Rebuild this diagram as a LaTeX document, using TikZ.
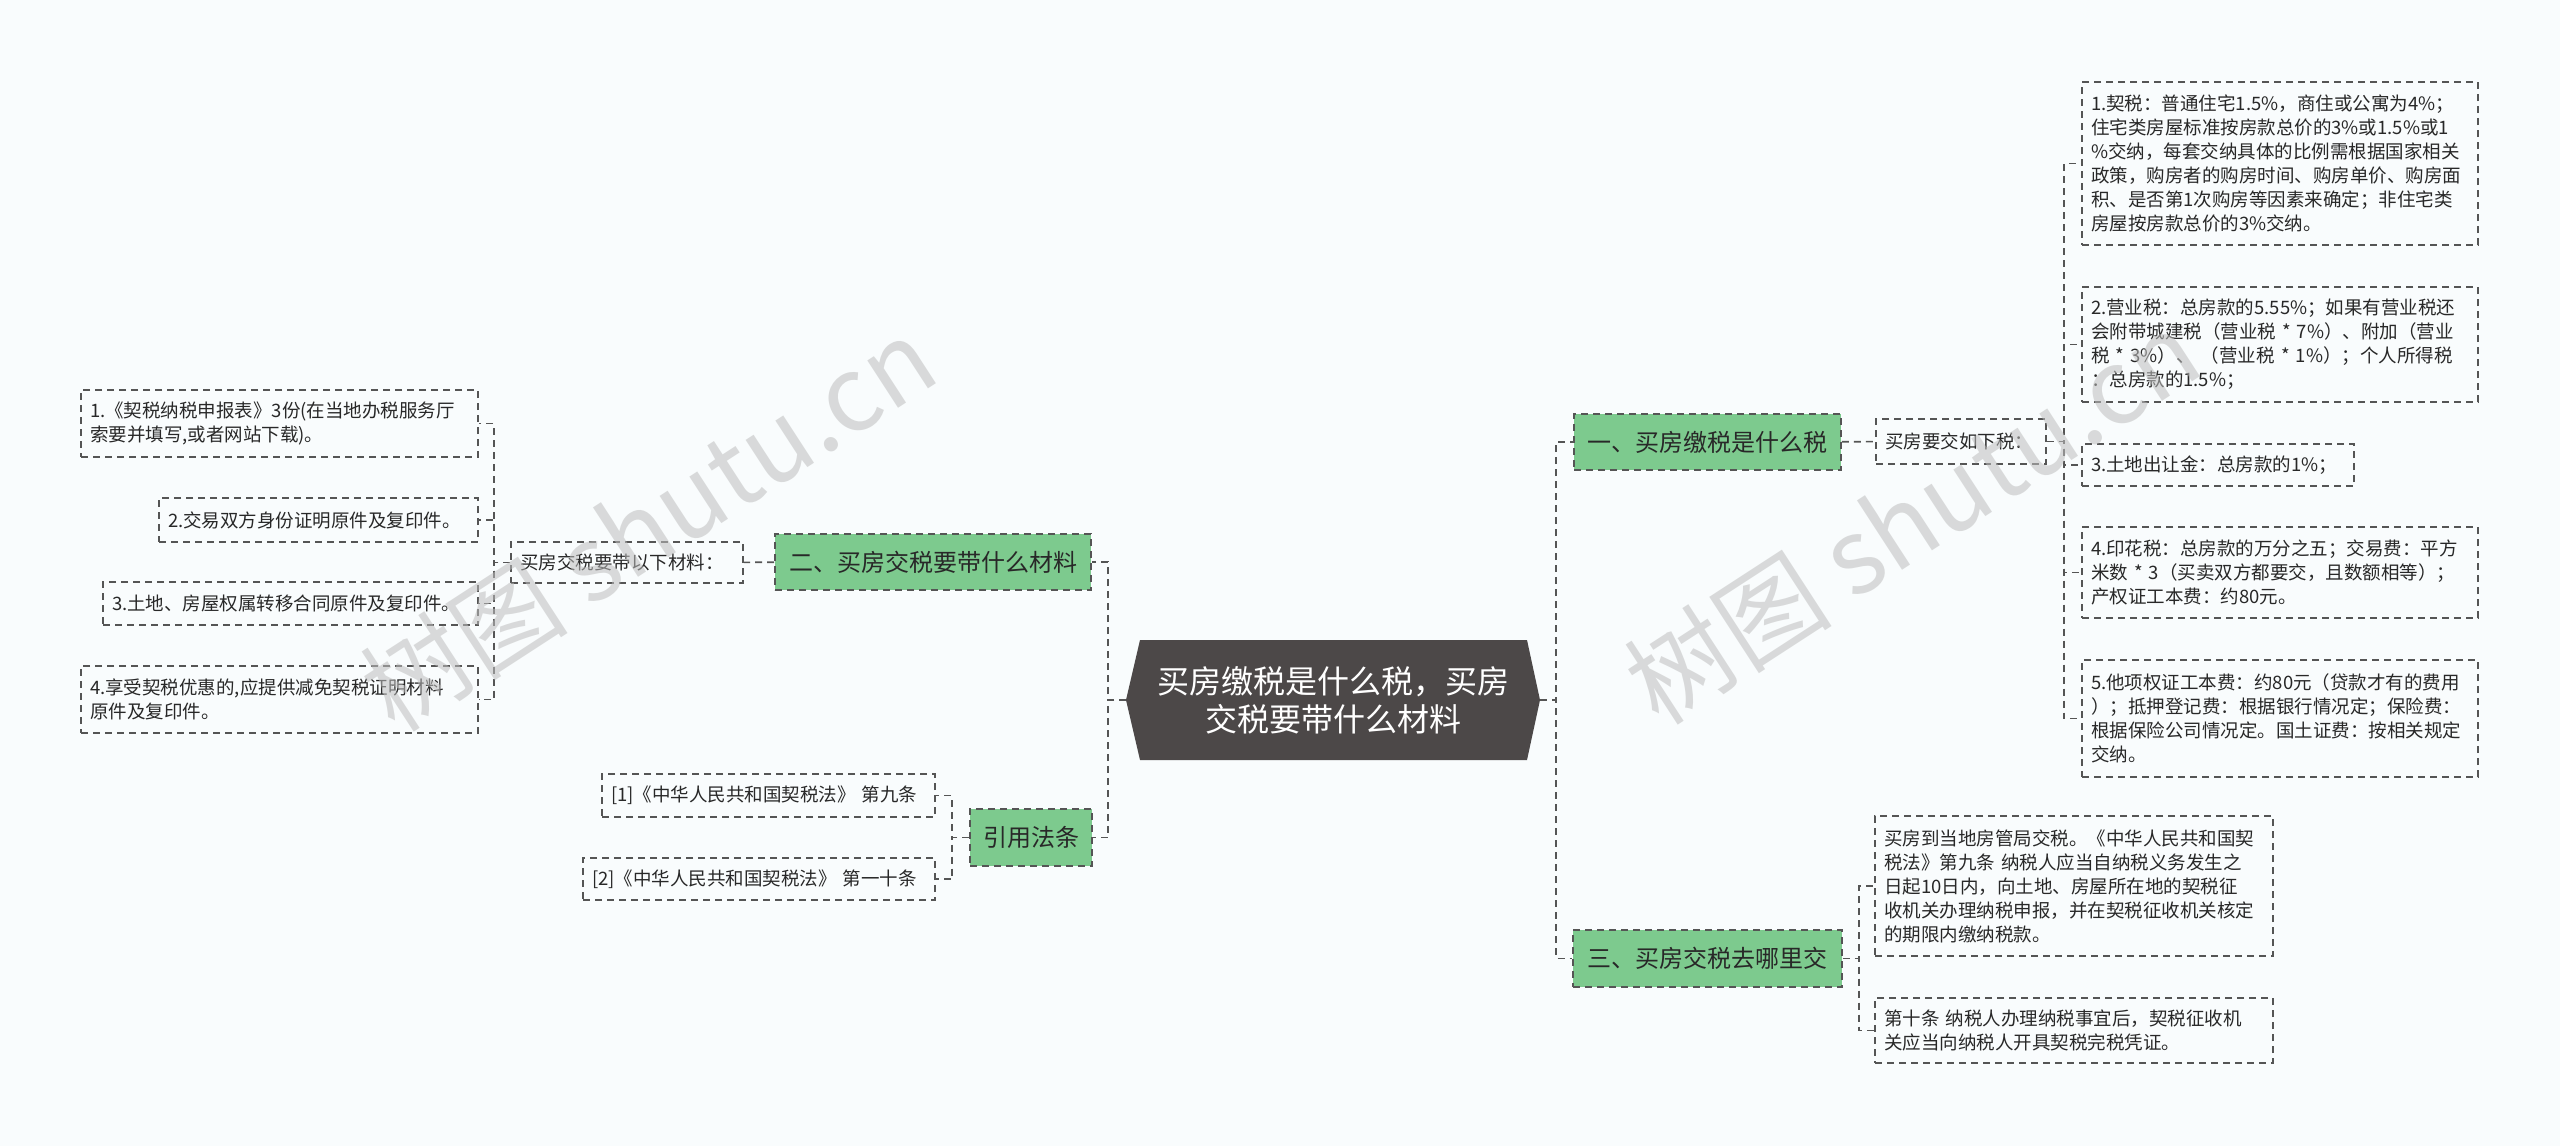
\documentclass[tikz,border=0pt]{standalone}
\usepackage{fontspec}
\setmainfont{Noto Sans CJK SC}
\definecolor{bgc}{RGB}{249,252,253}
\definecolor{linec}{RGB}{85,85,85}
\definecolor{greenc}{RGB}{125,202,142}
\definecolor{darkc}{RGB}{76,72,72}
\definecolor{txtc}{RGB}{40,40,40}
\definecolor{wmc}{RGB}{190,190,190}
\begin{document}
\begin{tikzpicture}[x=1pt,y=-1pt,
  dsh/.style={draw=linec,line width=1.6pt,dash pattern=on 7pt off 5pt},
  conn/.style={dsh},
  leaf/.style 2 args={dsh,fill=bgc,text=txtc,inner xsep=9pt,inner ysep=0pt,
    align=left,font=\fontsize{18.5}{24}\selectfont,
    minimum width=#1,text width=#2},
  topic/.style={dsh,fill=greenc,text=txtc,inner sep=0pt,align=center,
    font=\fontsize{24}{28}\selectfont},
  wm/.style={text=wmc,text opacity=0.55,rotate=33,font=\fontsize{104}{104}\selectfont}
]
\useasboundingbox (0,0) rectangle (2560,1146);
\fill[bgc] (0,0) rectangle (2560,1146);

% central node
\coordinate (cL) at (1126,700);
\coordinate (cR) at (1540,700);
\fill[darkc] (cL) -- (1140,640) -- (1527,640) -- (cR) -- (1527,760) -- (1140,760) -- cycle;
\node[text=white,align=center,inner sep=0pt,minimum width=387pt,minimum height=120pt,
  font=\fontsize{32}{38}\selectfont] (c) at (1333.5,700) {买房缴税是什么税，买房\\交税要带什么材料};

% right branch 1
\node[topic,minimum width=267pt,minimum height=56pt] (n1) at (1707.5,442) {一、买房缴税是什么税};
\node[leaf={170pt}{152pt},minimum height=45pt] (yj) at (1961,441.5) {买房要交如下税：};
\node[leaf={396pt}{378pt},minimum height=163pt] (r1) at (2280,163.5) {1.契税：普通住宅1.5\%，商住或公寓为4\%；\\住宅类房屋标准按房款总价的3\%或1.5\%或1\\\%交纳，每套交纳具体的比例需根据国家相关\\政策，购房者的购房时间、购房单价、购房面\\积、是否第1次购房等因素来确定；非住宅类\\房屋按房款总价的3\%交纳。};
\node[leaf={396pt}{378pt},minimum height=115pt] (r2) at (2280,344.5) {2.营业税：总房款的5.55\%；如果有营业税还\\会附带城建税（营业税~*~7\%）、附加（营业\\税~*~3\%）、~（营业税~*~1\%）；个人所得税\\：总房款的1.5\%；};
\node[leaf={272pt}{254pt},minimum height=42pt] (r3) at (2218,465) {3.土地出让金：总房款的1\%；};
\node[leaf={396pt}{378pt},minimum height=91pt] (r4) at (2280,572.5) {4.印花税：总房款的万分之五；交易费：平方\\米数~*~3（买卖双方都要交，且数额相等）；\\产权证工本费：约80元。};
\node[leaf={396pt}{378pt},minimum height=117pt] (r5) at (2280,718.5) {5.他项权证工本费：约80元（贷款才有的费用\\）；抵押登记费：根据银行情况定；保险费：\\根据保险公司情况定。国土证费：按相关规定\\交纳。};

% right branch 3
\node[topic,minimum width=269pt,minimum height=57pt] (n3) at (1707.5,958.5) {三、买房交税去哪里交};
\node[leaf={398pt}{380pt},minimum height=140pt] (a) at (2074,886) {买房到当地房管局交税。《中华人民共和国契\\税法》第九条~纳税人应当自纳税义务发生之\\日起10日内，向土地、房屋所在地的契税征\\收机关办理纳税申报，并在契税征收机关核定\\的期限内缴纳税款。};
\node[leaf={398pt}{380pt},minimum height=65pt] (b) at (2074,1030.5) {第十条~纳税人办理纳税事宜后，契税征收机\\关应当向纳税人开具契税完税凭证。};

% left branch 2
\node[topic,minimum width=316pt,minimum height=56pt] (n2) at (933,562) {二、买房交税要带什么材料};
\node[leaf={232pt}{214pt},minimum height=41pt] (cl) at (627,562.5) {买房交税要带以下材料：};
\node[leaf={397pt}{379pt},minimum height=67pt] (l1) at (279.5,423.5) {1.《契税纳税申报表》3份(在当地办税服务厅\\索要并填写,或者网站下载)。};
\node[leaf={319pt}{301pt},minimum height=44pt] (l2) at (318.5,520) {2.交易双方身份证明原件及复印件。};
\node[leaf={375pt}{357pt},minimum height=43pt] (l3) at (290.5,603.5) {3.土地、房屋权属转移合同原件及复印件。};
\node[leaf={397pt}{379pt},minimum height=67pt] (l4) at (279.5,699.5) {4.享受契税优惠的,应提供减免契税证明材料\\原件及复印件。};

% left branch 4
\node[topic,minimum width=122pt,minimum height=57pt] (ny) at (1031,837.5) {引用法条};
\node[leaf={333pt}{315pt},minimum height=43pt] (f1) at (768.5,795.5) {[1]《中华人民共和国契税法》~第九条};
\node[leaf={352pt}{334pt},minimum height=42pt] (f2) at (759,879) {[2]《中华人民共和国契税法》~第一十条};

% connectors
\draw[conn] (cR) -- ++(16,0) |- (n1);
\draw[conn] (cR) -- ++(16,0) |- (n3);
\draw[conn] (cL) -- ++(-18,0) |- (n2);
\draw[conn] (cL) -- ++(-18,0) |- (ny);
\draw[conn] (n1) -- (yj);
\foreach \t in {r1,r2,r3,r4,r5} \draw[conn] (yj.east) -- ++(17,0) |- (\t);
\foreach \t in {a,b} \draw[conn] (n3.east) -- ++(16,0) |- (\t);
\draw[conn] (n2) -- (cl);
\foreach \t in {l1,l2,l3,l4} \draw[conn] (cl.west) -- ++(-16,0) |- (\t);
\foreach \t in {f1,f2} \draw[conn] (ny.west) -- ++(-17,0) |- (\t);

% watermarks
\node[wm] (wm1) at (648,524) {树图 shutu.cn};
\node[wm] (wm2) at (1912,517) {树图 shutu.cn};
\end{tikzpicture}
\end{document}
